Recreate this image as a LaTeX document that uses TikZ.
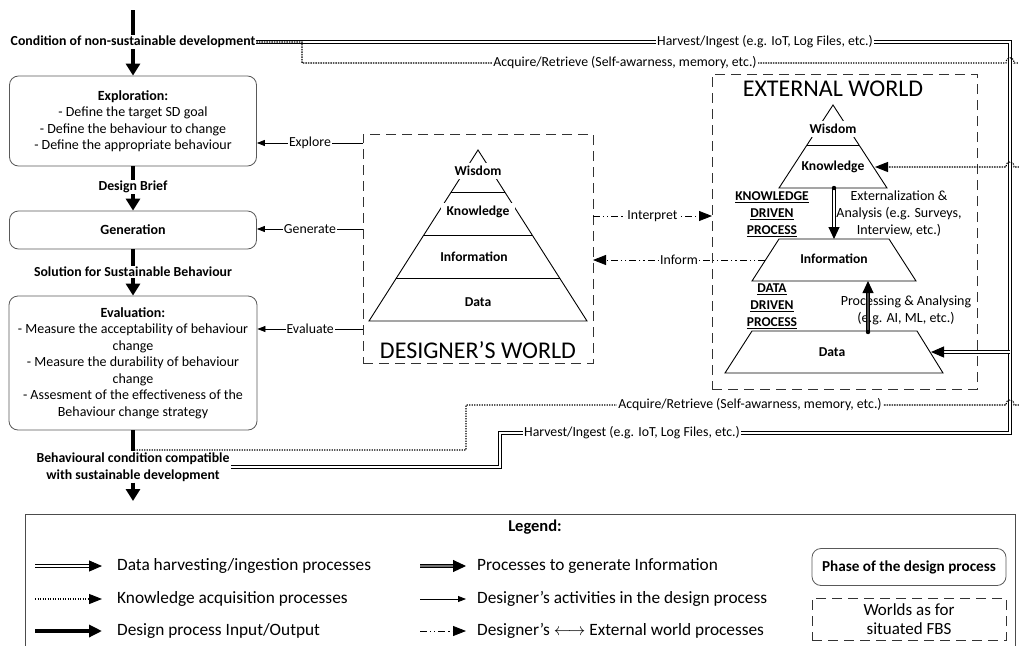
\documentclass[tikz,border=0pt]{standalone}
\usepackage{fontspec}
\setmainfont{Carlito}
\usetikzlibrary{arrows.meta}
\begin{document}
\begin{tikzpicture}[x=1pt,y=-1pt,
  ftxt/.style={font=\bfseries\fontsize{13.8}{17}\selectfont, align=center, inner sep=1pt},
  phase/.style={draw=black!65, line width=0.8pt, rounded corners=9pt, align=center, font=\fontsize{14}{16.5}\selectfont},
  io/.style={line width=3.6pt},
  ioarr/.style={line width=3.6pt, -{Triangle[length=12pt,width=14pt]}},
  act/.style={line width=0.8pt, -{Triangle[length=8pt,width=6pt]}},
  harv/.style={double, double distance=1.5pt, line width=1pt},
  harvarr/.style={harv, -{Triangle[length=13pt,width=11pt]}},
  acq/.style={dash pattern=on 1.3pt off 1.2pt, line width=1.1pt},
  acqarr/.style={acq, -{Triangle[length=13pt,width=10pt]}},
  ddarr/.style={line width=0.8pt, dash pattern=on 7pt off 3pt on 1.2pt off 3pt on 1.2pt off 3pt, -{Triangle[length=13pt,width=10pt]}},
  genarr/.style={double, double distance=1.6pt, line width=1pt, -{Triangle[length=12pt,width=11pt]}},
  world/.style={draw=black!80, line width=0.9pt, dash pattern=on 10pt off 6pt},
  lbl/.style={fill=white, font=\fontsize{13.8}{15}\selectfont, inner sep=1pt},
  pyr/.style={fill=white, font=\bfseries\fontsize{13.6}{15}\selectfont, inner xsep=2pt, inner ysep=3pt},
  ann/.style={font=\fontsize{14}{17}\selectfont, align=center, inner sep=0pt},
  und/.style={font=\bfseries\fontsize{13.5}{17}\selectfont, align=center, inner sep=0pt},
  big/.style={font=\fontsize{24}{26}\selectfont, inner sep=1pt},
  lgd/.style={font=\fontsize{17.3}{19}\selectfont, anchor=west, inner sep=0pt},
  pyd/.style={line width=0.9pt, line join=miter}
]
\useasboundingbox (0,0) rectangle (1019,645);

% ---------- worlds ----------
\node[world, minimum width=230pt, minimum height=229pt] (dw) at (478,248.5) {};
\node[world, minimum width=265pt, minimum height=315pt] (ew) at (844.5,231.5) {};
\node[big] (dwl) at (478,350) {DESIGNER’S WORLD};
\node[big] (ewl) at (833,89) {EXTERNAL WORLD};

% designer pyramid
\draw[pyd] (478,150) -- (369,321) -- (587,321) -- cycle;
\draw[pyd] (451,192) -- (505,192) (424,235) -- (532,235) (396,278) -- (560,278);
\node[pyr] (dW) at (478,171) {Wisdom};
\node[pyr, inner xsep=6pt] (dK) at (478,212) {Knowledge};
\node[pyr] (dI) at (474,257) {Information};
\node[pyr] (dD) at (478,302) {Data};

% external pyramid
\draw[pyd] (833,105) -- (779,188) -- (887,188) -- cycle;
\draw[pyd] (807,145) -- (859,145);
\draw[pyd] (779,239) -- (889,239) -- (916,281) -- (752,281) -- cycle;
\draw[pyd] (752,331) -- (917,331) -- (943,373) -- (725,373) -- cycle;
\node[pyr] (eW) at (833,129) {Wisdom};
\node[pyr] (eK) at (833,167) {Knowledge};
\node[pyr] (eI) at (834,259) {Information};
\node[pyr] (eD) at (832,352) {Data};

\node[und] (kdp) at (772,214) {\underline{KNOWLEDGE}\\\underline{DRIVEN}\\\underline{PROCESS}};
\node[ann] (ext) at (899,214) {Externalization \&\\Analysis (e.g. Surveys,\\Interview, etc.)};
\node[und] (ddp) at (772,306) {\underline{DATA}\\\underline{DRIVEN}\\\underline{PROCESS}};
\node[ann] (proc) at (906,310) {Processing \& Analysing\\(e.g. AI, ML, etc.)};

\coordinate (kB) at (834,188);
\coordinate (iT) at (834,239);
\coordinate (iB) at (868,281);
\coordinate (dT) at (868,332);
\draw[genarr] (kB) -- (iT);
\fill (kB) circle[radius=2.2pt];
\draw[genarr, double=black!70] (dT) -- (iB);
\fill (dT) circle[radius=2.2pt];

% ---------- design flow ----------
\coordinate (top) at (133,10);
\node[ftxt] (cond) at (133,42) {Condition of non-sustainable development};
\node[phase, minimum width=247pt, minimum height=90pt] (explo) at (133,121) {\textbf{Exploration:}\\- Define the target SD goal\\- Define the behaviour to change\\- Define the appropriate behaviour};
\node[ftxt] (brief) at (133,187) {Design Brief};
\node[phase, minimum width=247pt, minimum height=38pt] (gen) at (133,230) {\textbf{Generation}};
\node[ftxt] (sol) at (133,272) {Solution for Sustainable Behaviour};
\node[phase, minimum width=248pt, minimum height=134pt] (eval) at (133,363) {\textbf{Evaluation:}\\- Measure the acceptability of behaviour\\change\\- Measure the durability of behaviour\\change\\- Assesment of the effectiveness of the\\Behaviour change strategy};
\node[ftxt] (beh) at (133,467) {Behavioural condition compatible\\with sustainable development};
\coordinate (out) at (133,501);

% ---------- harvest (double) ----------
\coordinate (hR) at (1010,433);
\coordinate (hL) at (500,433);
\coordinate (hLL) at (500,467);
\coordinate (hD) at (1010,352);
\coordinate (dataR) at (931,352);
\draw[harv] (cond.east) -| (hR) -- (hL) -- (hLL) -- (beh.east |- hLL);
\draw[harvarr] (hD) -- (dataR);

% ---------- acquire (dotted) ----------
\coordinate (aA) at (302,63);
\coordinate (aE) at (1019,63);
\draw[acq] (cond.east) -| (aA) -- (1006,63) .. controls (1006,56) and (1014,56) .. (1014,63) -- (aE);
\coordinate (kE) at (1019,167);
\coordinate (kR) at (875,167);
\draw[acqarr] (kE) -- (1014,167) .. controls (1014,160) and (1006,160) .. (1006,167) -- (kR);
\coordinate (bE) at (1019,405);
\coordinate (bA) at (466,405);
\coordinate (bB) at (466,450);
\coordinate (bJ) at (133,450);
\draw[acq] (bE) -- (1014,405) .. controls (1014,398) and (1006,398) .. (1006,405) -- (bA) -- (bB) -- (bJ);

\node[lbl] (hvT) at (765,42) {Harvest/Ingest (e.g. IoT, Log Files, etc.)};
\node[lbl] (hvB) at (632,433) {Harvest/Ingest (e.g. IoT, Log Files, etc.)};
\node[lbl] (aqT) at (625,63) {Acquire/Retrieve (Self-awarness, memory, etc.)};
\node[lbl] (aqB) at (750,405) {Acquire/Retrieve (Self-awarness, memory, etc.)};

% flow arrows
\draw[io] (top) -- (cond.north);
\draw[ioarr] (cond.south) -- (explo.north);
\draw[io] (explo.south) -- (brief.north);
\draw[ioarr] (brief.south) -- (gen.north);
\draw[io] (gen.south) -- (sol.north);
\draw[ioarr] (sol.south) -- (eval.north);
\draw[io] (eval.south) -- (beh.north);
\draw[ioarr] (beh.south) -- (out);

% designer activities
\coordinate (exS) at (363,143);
\coordinate (geS) at (363,229);
\coordinate (evS) at (363,329);
\draw[act] (exS) -- node[lbl]{Explore} (explo.east |- exS);
\draw[act] (geS) -- node[lbl]{Generate} (gen.east |- geS);
\draw[act] (evS) -- node[lbl]{Evaluate} (eval.east |- evS);

% designer <-> external
\coordinate (intA) at (593,216);
\coordinate (intB) at (712,216);
\coordinate (infA) at (765,260);
\coordinate (infB) at (593,260);
\draw[ddarr] (intA) -- node[lbl]{Interpret} (intB);
\draw[ddarr] (infA) -- node[lbl]{Inform} (infB);

% ---------- legend ----------
\draw[draw=black!70, line width=0.8pt] (25,514) rectangle (1015,652);
\node[font=\bfseries\fontsize{16.5}{18}\selectfont] (lgt) at (535,527) {Legend:};
\coordinate (L1a) at (35,566);  \coordinate (L1b) at (102,566);
\coordinate (L2a) at (35,599);  \coordinate (L2b) at (102,599);
\coordinate (L3a) at (35,631);  \coordinate (L3b) at (102,631);
\coordinate (R1a) at (420,566); \coordinate (R1b) at (466,566);
\coordinate (R2a) at (420,599); \coordinate (R2b) at (466,599);
\coordinate (R3a) at (420,631); \coordinate (R3b) at (466,631);
\draw[harvarr] (L1a) -- (L1b);
\draw[acqarr] (L2a) -- (L2b);
\draw[line width=3.2pt, -{Triangle[length=13pt,width=12pt]}] (L3a) -- (L3b);
\draw[double=black!55, double distance=2pt, line width=1pt, -{Triangle[length=13pt,width=12pt]}] (R1a) -- (R1b);
\draw[act] (R2a) -- (R2b);
\draw[ddarr] (R3a) -- (R3b);
\node[lgd] (t1) at (117,566) {Data harvesting/ingestion processes};
\node[lgd] (t2) at (117,599) {Knowledge acquisition processes};
\node[lgd] (t3) at (117,631) {Design process Input/Output};
\node[lgd] (t4) at (477,566) {Processes to generate Information};
\node[lgd] (t5) at (477,599) {Designer’s activities in the design process};
\node[lgd] (t6) at (477,631) {Designer’s $\leftarrow\!\rightarrow$ External world processes};
\node[phase, minimum width=194pt, minimum height=37pt, font=\bfseries\fontsize{15.2}{17}\selectfont] (lp) at (909,567) {Phase of the design process};
\node[world, minimum width=194pt, minimum height=42pt, align=center, font=\fontsize{17}{19}\selectfont] (lw) at (909,619) {Worlds as for\\situated FBS};
\end{tikzpicture}
\end{document}
